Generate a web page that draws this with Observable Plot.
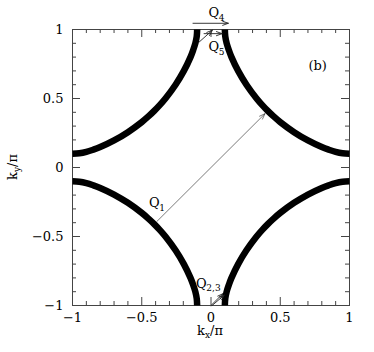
<!DOCTYPE html>
<html>
<head>
<meta charset="utf-8">
<script src="https://cdn.jsdelivr.net/npm/d3@7"></script>
<script src="https://cdn.jsdelivr.net/npm/@observablehq/plot@0.6"></script>
<style>
  html, body { margin: 0; padding: 0; background: #fff; }
  #chart { width: 374px; height: 352px; }
</style>
</head>
<body>
<div id="chart"></div>
<script>
// Fermi-surface arcs (kx/π, ky/π)
const arcTopRight = [[0.1,1],[0.103,0.95],[0.113,0.9],[0.129,0.85],[0.148,0.8],[0.196,0.7],[0.256,0.6],[0.329,0.5],[0.372,0.45],[0.41,0.41],[0.45,0.372],[0.5,0.329],[0.6,0.256],[0.7,0.196],[0.8,0.148],[0.85,0.129],[0.9,0.113],[0.95,0.103],[1,0.1]];
const arcTopLeft = [[-0.1,1],[-0.103,0.95],[-0.113,0.9],[-0.129,0.85],[-0.148,0.8],[-0.196,0.7],[-0.256,0.6],[-0.329,0.5],[-0.372,0.45],[-0.41,0.41],[-0.45,0.372],[-0.5,0.329],[-0.6,0.256],[-0.7,0.196],[-0.8,0.148],[-0.85,0.129],[-0.9,0.113],[-0.95,0.103],[-1,0.1]];
const arcBottomLeft = [[-0.1,-1],[-0.103,-0.95],[-0.113,-0.9],[-0.129,-0.85],[-0.148,-0.8],[-0.196,-0.7],[-0.256,-0.6],[-0.329,-0.5],[-0.372,-0.45],[-0.41,-0.41],[-0.45,-0.372],[-0.5,-0.329],[-0.6,-0.256],[-0.7,-0.196],[-0.8,-0.148],[-0.85,-0.129],[-0.9,-0.113],[-0.95,-0.103],[-1,-0.1]];
const arcBottomRight = [[0.1,-1],[0.103,-0.95],[0.113,-0.9],[0.129,-0.85],[0.148,-0.8],[0.196,-0.7],[0.256,-0.6],[0.329,-0.5],[0.372,-0.45],[0.41,-0.41],[0.45,-0.372],[0.5,-0.329],[0.6,-0.256],[0.7,-0.196],[0.8,-0.148],[0.85,-0.129],[0.9,-0.113],[0.95,-0.103],[1,-0.1]];

// Scattering vectors (arrows)
const arrowNames = ["Q1", "Q4", "Q5", "Q5b", "Q23a", "Q23b"];
const arrowX1 = [-0.39, -0.13, -0.05, -0.09, 0.0, 0.008];
const arrowY1 = [-0.39, 1.045, 0.97, 0.905, -1.0, -1.0];
const arrowX2 = [0.39, 0.125, 0.08, 0.01, 0.085, 0.095];
const arrowY2 = [0.39, 1.045, 0.97, 0.995, -0.915, -0.925];

// Labels
const labelMain = ["Q", "Q", "Q", "Q"];
const labelSub = ["1", "4", "5", "2,3"];
const labelX = [-0.41, 0.02, 0.02, -0.07];
const labelY = [-0.255, 1.12, 0.875, -0.84];

// Ticks
const majorTicks = [-1, -0.5, 0, 0.5, 1];
const majorTickLabels = ["\u22121", "\u22120.5", "0", "0.5", "1"];
const minorTicks = [-0.9, -0.8, -0.7, -0.6, -0.4, -0.3, -0.2, -0.1, 0.1, 0.2, 0.3, 0.4, 0.6, 0.7, 0.8, 0.9];

const W = 374, H = 352, mL = 72, mR = 25, mT = 29, mB = 47;
const innerW = W - mL - mR, innerH = H - mT - mB;

const arrows = arrowNames.map((n, i) => ({n, x1: arrowX1[i], y1: arrowY1[i], x2: arrowX2[i], y2: arrowY2[i]}));
const labels = labelMain.map((m, i) => ({m, s: labelSub[i], x: labelX[i], y: labelY[i]}));
const arcs = [arcTopRight, arcTopLeft, arcBottomLeft, arcBottomRight];
const fmt = d => majorTickLabels[majorTicks.indexOf(d)];

const plot = Plot.plot({
  width: W, height: H,
  marginLeft: mL, marginRight: mR, marginTop: mT, marginBottom: mB,
  style: {fontFamily: "DejaVu Serif", fontSize: "12px", background: "#fff", color: "#000", overflow: "visible"},
  x: {domain: [-1, 1], label: null},
  y: {domain: [-1, 1], label: null},
  marks: [
    Plot.frame({stroke: "#444", strokeWidth: 1}),
    // inward ticks
    Plot.tickX(majorTicks, {x: d => d, insetTop: innerH - 8, stroke: "#444"}),
    Plot.tickX(minorTicks, {x: d => d, insetTop: innerH - 4, stroke: "#444"}),
    Plot.tickX(majorTicks, {x: d => d, insetBottom: innerH - 8, stroke: "#444"}),
    Plot.tickX(minorTicks, {x: d => d, insetBottom: innerH - 4, stroke: "#444"}),
    Plot.tickY(majorTicks, {y: d => d, insetRight: innerW - 8, stroke: "#444"}),
    Plot.tickY(minorTicks, {y: d => d, insetRight: innerW - 4, stroke: "#444"}),
    Plot.tickY(majorTicks, {y: d => d, insetLeft: innerW - 8, stroke: "#444"}),
    Plot.tickY(minorTicks, {y: d => d, insetLeft: innerW - 4, stroke: "#444"}),
    Plot.axisX(majorTicks, {tickSize: 0, tickPadding: 7, tickFormat: fmt, fontSize: 13, letterSpacing: 1.5, label: null}),
    Plot.axisY(majorTicks, {tickSize: 0, tickPadding: 9, tickFormat: fmt, fontSize: 13, letterSpacing: 1.5, label: null}),
    // Fermi surface arcs
    ...arcs.map(a => Plot.line(a, {x: d => d[0], y: d => d[1], curve: "catmull-rom", stroke: "#000", strokeWidth: 6.5, strokeLinecap: "butt"})),
    // arrows
    Plot.arrow(arrows, {x1: "x1", y1: "y1", x2: "x2", y2: "y2", stroke: "#222", strokeWidth: d => d.n === "Q1" ? 0.6 : 0.9, headLength: 9, headAngle: 40}),
    // labels
    Plot.text(labels, {x: "x", y: "y", text: "m", fontSize: 13, textAnchor: "middle"}),
    Plot.text(labels, {x: "x", y: "y", text: "s", fontSize: 9, textAnchor: "start", dx: 5, dy: 5}),
    Plot.text(["(b)"], {x: 0.77, y: 0.74, text: d => d, fontSize: 13})
  ]
});

document.getElementById("chart").appendChild(plot);

// axis titles with subscripts
const svg = d3.select(plot);
const xt = svg.append("text")
  .attr("x", 210).attr("y", 335)
  .attr("text-anchor", "middle")
  .attr("font-family", "DejaVu Serif").attr("font-size", 13).attr("fill", "#000");
xt.append("tspan").text("k");
xt.append("tspan").attr("font-size", 9).attr("dy", 3).text("x");
xt.append("tspan").attr("dy", -3).text("/\u03c0");

const yt = svg.append("text")
  .attr("transform", "translate(17,167) rotate(-90)")
  .attr("text-anchor", "middle")
  .attr("font-family", "DejaVu Serif").attr("font-size", 13).attr("fill", "#000");
yt.append("tspan").text("k");
yt.append("tspan").attr("font-size", 9).attr("dy", 3).text("y");
yt.append("tspan").attr("dy", -3).text("/\u03c0");
</script>
</body>
</html>
